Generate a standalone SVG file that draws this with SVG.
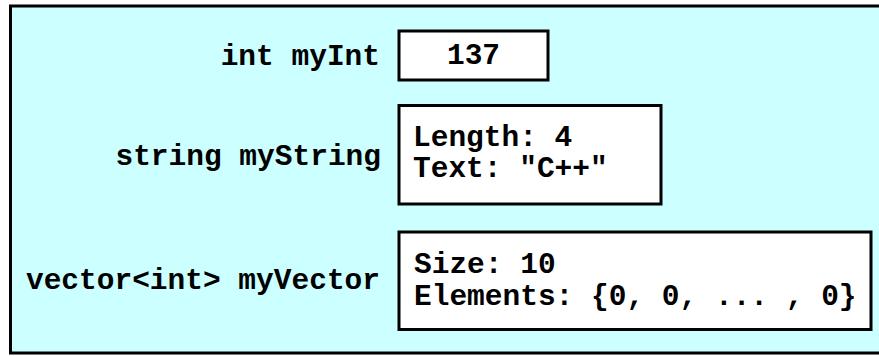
<svg xmlns="http://www.w3.org/2000/svg" width="879" height="356" viewBox="0 0 879 356">
<style>
.bg{fill:#ccffff;stroke:#000;stroke-width:3}
.box{fill:#fff;stroke:#000;stroke-width:3}
text{font-family:"Liberation Mono","Courier New",monospace;font-weight:bold;font-size:29.5px;fill:#000}
.lbl{text-anchor:end}
</style>
<rect class="bg" x="10.5" y="6" width="880" height="347"/>
<g id="myInt">
<text class="lbl" x="380" y="64.5">int myInt</text>
<rect class="box" x="399" y="31" width="149" height="49"/>
<text x="473.5" y="63.5" text-anchor="middle">137</text>
</g>
<g id="myString">
<text class="lbl" x="381" y="165">string myString</text>
<rect class="box" x="399" y="105.5" width="262" height="98.5"/>
<text x="413" y="146">Length: 4</text>
<text x="413" y="177">Text: "C++"</text>
</g>
<g id="myVector">
<text class="lbl" x="380" y="288.5">vector&lt;int&gt; myVector</text>
<rect class="box" x="399" y="232" width="472" height="97.5"/>
<text x="414" y="272.5">Size: 10</text>
<text x="414" y="304.5">Elements: {0, 0, ... , 0}</text>
</g>
<g id="connectors"/>
</svg>
